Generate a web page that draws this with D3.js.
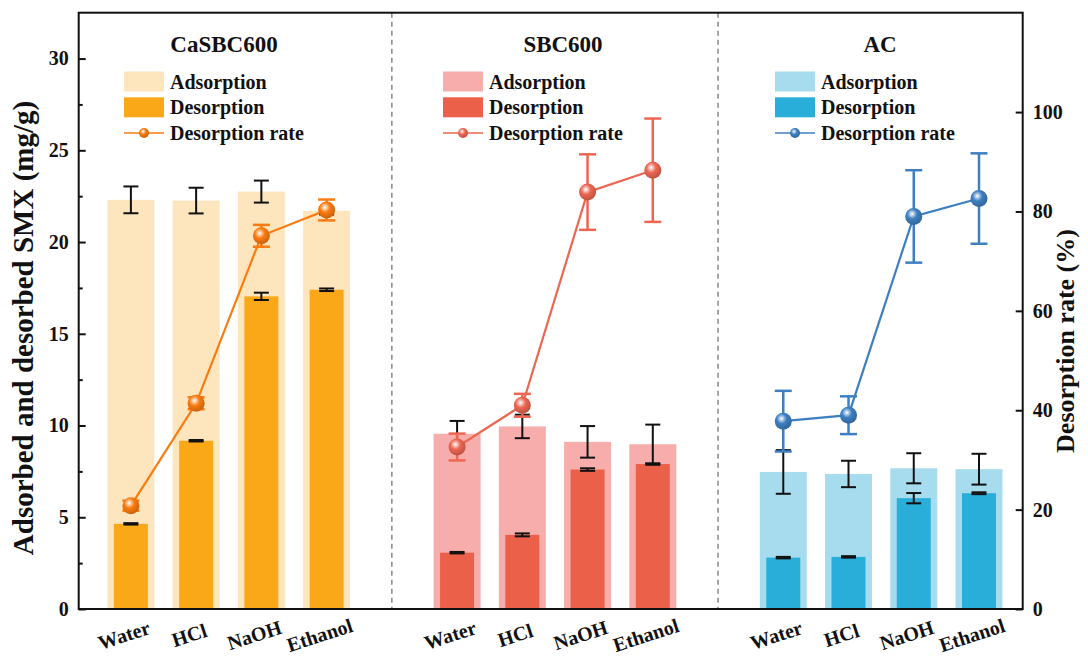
<!DOCTYPE html>
<html>
<head>
<meta charset="utf-8">
<script src="https://cdn.jsdelivr.net/npm/d3@7"></script>
<style>
	body { margin: 0; background: #fff; }
	svg text { font-family: "Liberation Serif", "Times New Roman", serif; font-weight: bold; fill: #111; }
</style>
</head>
<body>
<div id="chart"></div>
<script>
// data
let solvents = ["Water", "HCl", "NaOH", "Ethanol"];
let materials = ["CaSBC600", "SBC600", "AC"];
let adsorption = [[22.3, 22.26, 22.75, 21.7], [9.55, 9.95, 9.11, 8.98], [7.47, 7.36, 7.67, 7.62]];
let adsorptionErr = [[0.73, 0.7, 0.6, 0.2], [0.7, 0.64, 0.86, 1.07], [1.19, 0.72, 0.82, 0.84]];
let desorption = [[4.64, 9.17, 17.04, 17.4], [3.07, 4.04, 7.6, 7.9], [2.8, 2.84, 6.04, 6.31]];
let desorptionErr = [[0.04, 0.04, 0.2, 0.07], [0.04, 0.08, 0.07, 0.04], [0.04, 0.04, 0.28, 0.05]];
let rate = [[20.8, 41.4, 75.1, 80.3], [32.6, 41.0, 83.9, 88.3], [37.8, 39.0, 79.0, 82.6]];
let rateErr = [[1.0, 1.2, 2.2, 2.1], [2.7, 2.3, 7.6, 10.4], [6.1, 3.8, 9.3, 9.1]];
let leftTicks = [0, 5, 10, 15, 20, 25, 30];
let rightTicks = [0, 20, 40, 60, 80, 100];

let colors = [
	{ light: "#fde5be", dark: "#fba818", line: "#fa7b10" },
	{ light: "#f7adab", dark: "#eb6049", line: "#ec6651" },
	{ light: "#a6dcee", dark: "#29aed9", line: "#3d7fc1" }
];

let width = 1088, height = 659;
let plotL = 78.7, plotR = 1022.7, plotT = 12.7, plotB = 609;

let svg = d3.select("#chart").append("svg")
	.attr("width", width)
	.attr("height", height);

let x = d3.scaleLinear().domain([0.2, 14.67]).range([plotL, plotR]);
let y = d3.scaleLinear().domain([0, 32.5]).range([plotB, plotT]);
let y2 = d3.scaleLinear().domain([0, 120]).range([plotB, plotT]);

let lightW = 47, darkW = 34, capW = 15, rCap = 17;

// flatten rows
let rows = [];
materials.forEach((m, g) => {
	solvents.forEach((s, i) => {
		rows.push({
			g: g, pos: g * 5 + i + 1, solvent: s,
			ads: adsorption[g][i], adsErr: adsorptionErr[g][i],
			des: desorption[g][i], desErr: desorptionErr[g][i],
			rate: rate[g][i], rateErr: rateErr[g][i]
		});
	});
});

// gradients for the sphere markers
let defs = svg.append("defs");
colors.forEach((c, g) => {
	let grad = defs.append("radialGradient")
		.attr("id", "ball" + g)
		.attr("cx", "40%").attr("cy", "35%").attr("r", "65%");
	grad.append("stop").attr("offset", "0%").attr("stop-color", "#ffffff");
	grad.append("stop").attr("offset", "45%").attr("stop-color", c.line);
	grad.append("stop").attr("offset", "100%").attr("stop-color", d3.color(c.line).darker(0.6));
});

// group separators
[5, 10].forEach(p => {
	svg.append("line")
		.attr("x1", x(p)).attr("x2", x(p))
		.attr("y1", plotT).attr("y2", plotB)
		.attr("stroke", "#888")
		.attr("stroke-width", 1.5)
		.attr("stroke-dasharray", "5,4");
});

// adsorption bars
svg.selectAll(".ads")
	.data(rows)
	.enter()
	.append("rect")
	.attr("x", d => x(d.pos) - lightW / 2)
	.attr("width", lightW)
	.attr("y", d => y(d.ads))
	.attr("height", d => y(0) - y(d.ads))
	.attr("fill", d => colors[d.g].light);

function errBar(sel, data, cx, lo, hi, color, w, sw) {
	let g = sel.selectAll(null).data(data).enter().append("g")
		.attr("stroke", color).attr("stroke-width", sw).attr("fill", "none");
	g.append("line").attr("x1", cx).attr("x2", cx).attr("y1", lo).attr("y2", hi);
	g.append("line").attr("x1", d => cx(d) - w / 2).attr("x2", d => cx(d) + w / 2).attr("y1", lo).attr("y2", lo);
	g.append("line").attr("x1", d => cx(d) - w / 2).attr("x2", d => cx(d) + w / 2).attr("y1", hi).attr("y2", hi);
}

errBar(svg, rows, d => x(d.pos), d => y(d.ads - d.adsErr), d => y(d.ads + d.adsErr), "#111", capW, 2);

// desorption bars
svg.selectAll(".des")
	.data(rows)
	.enter()
	.append("rect")
	.attr("x", d => x(d.pos) - darkW / 2)
	.attr("width", darkW)
	.attr("y", d => y(d.des))
	.attr("height", d => y(0) - y(d.des))
	.attr("fill", d => colors[d.g].dark);

errBar(svg, rows, d => x(d.pos), d => y(d.des - d.desErr), d => y(d.des + d.desErr), "#111", capW, 2);

// desorption rate lines
let line = d3.line().x(d => x(d.pos)).y(d => y2(d.rate));
materials.forEach((m, g) => {
	let part = rows.filter(d => d.g === g);
	svg.append("path")
		.datum(part)
		.attr("d", line)
		.attr("fill", "none")
		.attr("stroke", colors[g].line)
		.attr("stroke-width", 2.2);
	errBar(svg, part, d => x(d.pos), d => y2(d.rate - d.rateErr), d => y2(d.rate + d.rateErr), colors[g].line, rCap, 2.5);
	svg.selectAll(null)
		.data(part)
		.enter()
		.append("circle")
		.attr("cx", d => x(d.pos))
		.attr("cy", d => y2(d.rate))
		.attr("r", 8.5)
		.attr("fill", "url(#ball" + g + ")");
});

// frame
svg.append("rect")
	.attr("x", plotL).attr("y", plotT)
	.attr("width", plotR - plotL).attr("height", plotB - plotT)
	.attr("fill", "none")
	.attr("stroke", "#111")
	.attr("stroke-width", 2);

// left axis, ticks inward
let yAxis = svg.append("g")
	.attr("transform", `translate(${plotL},0)`)
	.call(d3.axisLeft(y).tickValues(leftTicks).tickSize(-7).tickPadding(10));
svg.append("g")
	.attr("transform", `translate(${plotL},0)`)
	.call(d3.axisLeft(y).tickValues(d3.range(2.5, 32.5, 5)).tickSize(-4).tickFormat(""))
	.call(g => g.select(".domain").remove())
	.selectAll("line").attr("stroke", "#111").attr("stroke-width", 2);

let y2Axis = svg.append("g")
	.attr("transform", `translate(${plotR},0)`)
	.call(d3.axisRight(y2).tickValues(rightTicks).tickSize(-7).tickPadding(10));

[yAxis, y2Axis].forEach(a => {
	a.select(".domain").remove();
	a.selectAll("line").attr("stroke", "#111").attr("stroke-width", 2);
	a.selectAll("text").style("font-size", "20px").style("font-family", "Liberation Serif, serif").style("font-weight", "bold");
});

// x labels
svg.selectAll(".xlab")
	.data(rows)
	.enter()
	.append("text")
	.attr("transform", d => `translate(${x(d.pos) - 7},${635}) rotate(-18)`)
	.attr("text-anchor", "middle")
	.attr("dy", "0.35em")
	.style("font-size", "20px")
	.text(d => d.solvent);

// axis titles
svg.append("text")
	.attr("transform", `translate(33,${328}) rotate(-90)`)
	.attr("text-anchor", "middle")
	.style("font-size", "29px")
	.text("Adsorbed and desorbed SMX (mg/g)");

svg.append("text")
	.attr("transform", `translate(1074,${341}) rotate(-90)`)
	.attr("text-anchor", "middle")
	.style("font-size", "26px")
	.text("Desorption rate (%)");

// group titles and legends
let titleX = [224, 563, 880];
let legendX = [124, 443, 775];
materials.forEach((m, g) => {
	svg.append("text")
		.attr("x", titleX[g]).attr("y", 52)
		.attr("text-anchor", "middle")
		.style("font-size", "23px")
		.text(m);

	let lg = svg.append("g").attr("transform", `translate(${legendX[g]},0)`);
	lg.append("rect").attr("x", 0).attr("y", 71.5).attr("width", 40).attr("height", 20).attr("fill", colors[g].light);
	lg.append("rect").attr("x", 0).attr("y", 97.3).attr("width", 40).attr("height", 20).attr("fill", colors[g].dark);
	lg.append("line").attr("x1", 0).attr("x2", 40).attr("y1", 133).attr("y2", 133)
		.attr("stroke", colors[g].line).attr("stroke-width", 1.6);
	lg.append("circle").attr("cx", 20).attr("cy", 133).attr("r", 5).attr("fill", "url(#ball" + g + ")");
	["Adsorption", "Desorption", "Desorption rate"].forEach((t, k) => {
		lg.append("text")
			.attr("x", 46).attr("y", 81.5 + k * 25.8)
			.attr("dy", "0.35em")
			.style("font-size", "20px")
			.text(t);
	});
});
</script>
</body>
</html>
